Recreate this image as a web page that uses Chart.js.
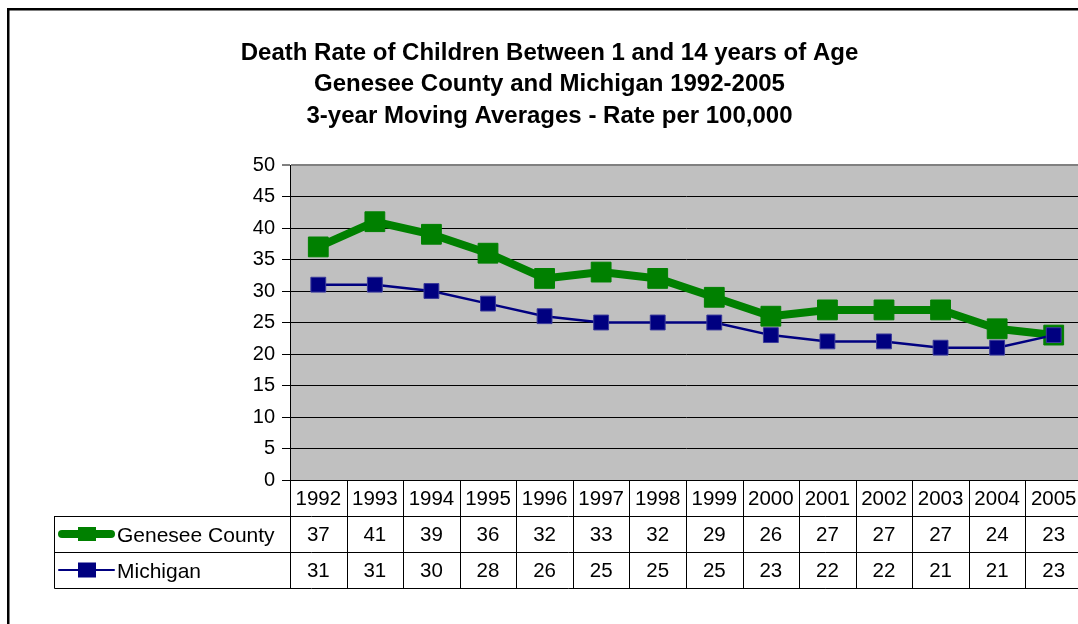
<!DOCTYPE html>
<html lang="en">
<head>
<meta charset="UTF-8">
<title>Death Rate of Children Between 1 and 14 years of Age</title>
<script src="https://cdn.jsdelivr.net/npm/chart.js"></script>
<style>
  html, body { margin: 0; padding: 0; background: #fff; overflow: hidden; }
  #wrap { width: 1099px; height: 624px; }
</style>
</head>
<body>
<div id="wrap"><canvas id="chart" width="1099" height="624"></canvas></div>
<script>
// data
const years = ['1992', '1993', '1994', '1995', '1996', '1997', '1998',
               '1999', '2000', '2001', '2002', '2003', '2004', '2005'];
const genesee = [37, 41, 39, 36, 32, 33, 32, 29, 26, 27, 27, 27, 24, 23];
const michigan = [31, 31, 30, 28, 26, 25, 25, 25, 23, 22, 22, 21, 21, 23];
const seriesNames = ['Genesee County', 'Michigan'];
const titleLines = [
    'Death Rate of Children Between 1 and 14 years of Age',
    'Genesee County and Michigan 1992-2005',
    '3-year Moving Averages - Rate per 100,000'
];
const yMin = 0, yMax = 50, yStep = 5;

const FONT = '"Liberation Sans", Arial, sans-serif';
const GREEN = '#008000';
const NAVY = '#000080';

// Excel-ish frame, plot background, title, and the data table under the plot
const excelBits = {
    id: 'excelBits',
    beforeDraw(chart) {
        const ctx = chart.ctx, a = chart.chartArea;
        ctx.save();
        ctx.fillStyle = '#fff';
        ctx.fillRect(0, 0, chart.width, chart.height);
        ctx.strokeStyle = '#000';
        ctx.lineWidth = 2.5;
        ctx.strokeRect(8.25, 9.25, 3000, 3000);
        ctx.fillStyle = '#c0c0c0';
        ctx.fillRect(a.left, a.top, a.right - a.left, a.bottom - a.top);

        ctx.fillStyle = '#000';
        ctx.font = 'bold 24px ' + FONT;
        ctx.textAlign = 'center';
        ctx.textBaseline = 'middle';
        titleLines.forEach((t, i) => ctx.fillText(t, 549.5, 53 + i * 31.5));
        ctx.restore();
    },
    afterDraw(chart) {
        const ctx = chart.ctx, a = chart.chartArea, xs = chart.scales.x;
        const n = years.length;
        const colW = (a.right - a.left) / n;
        const rowH = 36;
        const legendLeft = 54.5;
        const rows = [a.bottom, a.bottom + rowH, a.bottom + 2 * rowH, a.bottom + 3 * rowH];

        ctx.save();
        ctx.strokeStyle = '#000';
        ctx.lineWidth = 1;
        ctx.beginPath();
        for (let r = 1; r < rows.length; r++) {
            const y = Math.round(rows[r]) + 0.5;
            ctx.moveTo(legendLeft, y);
            ctx.lineTo(a.right, y);
        }
        for (let i = 0; i <= n; i++) {
            const x = Math.round(a.left + i * colW) + 0.5;
            ctx.moveTo(x, rows[0]);
            ctx.lineTo(x, rows[3] + 0.5);
        }
        ctx.moveTo(legendLeft, rows[1]);
        ctx.lineTo(legendLeft, rows[3] + 0.5);
        ctx.stroke();

        ctx.fillStyle = '#000';
        ctx.font = '20.5px ' + FONT;
        ctx.textAlign = 'center';
        ctx.textBaseline = 'middle';
        const rowVals = [years, genesee, michigan];
        rowVals.forEach((vals, r) => {
            const cy = (rows[r] + rows[r + 1]) / 2 + 1;
            vals.forEach((v, i) => ctx.fillText(String(v), xs.getPixelForValue(i), cy));
        });

        // legend keys
        const keys = [
            { color: GREEN, lw: 8, mw: 18, mh: 14 },
            { color: NAVY, lw: 2, mw: 18, mh: 15 }
        ];
        ctx.font = '21px ' + FONT;
        keys.forEach((k, r) => {
            const cy = (rows[r + 1] + rows[r + 2]) / 2;
            ctx.strokeStyle = k.color;
            ctx.lineWidth = k.lw;
            ctx.lineCap = 'round';
            ctx.beginPath();
            ctx.moveTo(58 + k.lw / 2, cy);
            ctx.lineTo(115 - k.lw / 2, cy);
            ctx.stroke();
            ctx.fillStyle = k.color;
            ctx.fillRect(87 - k.mw / 2, cy - k.mh / 2, k.mw, k.mh);
            ctx.fillStyle = '#000';
            ctx.textAlign = 'left';
            ctx.fillText(seriesNames[r], 117, cy + 2);
        });
        ctx.restore();
    }
};

new Chart(document.getElementById('chart'), {
    type: 'line',
    data: {
        labels: years,
        datasets: [{
            label: seriesNames[0],
            data: genesee,
            borderColor: GREEN,
            backgroundColor: GREEN,
            borderWidth: 8,
            borderJoinStyle: 'round',
            borderCapStyle: 'round',
            pointStyle: 'rect',
            pointRadius: 14,
            pointBackgroundColor: GREEN,
            pointBorderColor: GREEN,
            pointBorderWidth: 1,
            order: 1
        }, {
            label: seriesNames[1],
            data: michigan,
            borderColor: NAVY,
            backgroundColor: NAVY,
            borderWidth: 2.5,
            borderJoinStyle: 'round',
            pointStyle: 'rect',
            pointRadius: 10.5,
            pointBackgroundColor: NAVY,
            pointBorderColor: '#3a3a9a',
            pointBorderWidth: 1,
            order: 0
        }]
    },
    options: {
        responsive: false,
        animation: false,
        devicePixelRatio: 1,
        layout: { padding: { left: 0, right: 17, top: 165, bottom: 0 } },
        plugins: {
            legend: { display: false },
            tooltip: { enabled: false },
            title: { display: false }
        },
        scales: {
            x: {
                offset: true,
                ticks: { display: false },
                grid: { display: false, drawTicks: false },
                border: { display: true, color: '#000', width: 1 },
                afterFit: s => { s.height = 144; }
            },
            y: {
                min: yMin,
                max: yMax,
                ticks: {
                    stepSize: yStep,
                    color: '#000',
                    padding: 7,
                    font: { family: FONT, size: 20 }
                },
                grid: {
                    color: c => (c.tick && c.tick.value === yMax) ? '#808080' : '#000',
                    lineWidth: c => (c.tick && c.tick.value === yMax) ? 2 : 1,
                    tickLength: 8,
                    tickColor: '#000',
                    tickWidth: 1
                },
                border: { display: true, color: '#000', width: 1 },
                afterFit: s => { s.width = 290; }
            }
        }
    },
    plugins: [excelBits]
});
</script>
</body>
</html>
